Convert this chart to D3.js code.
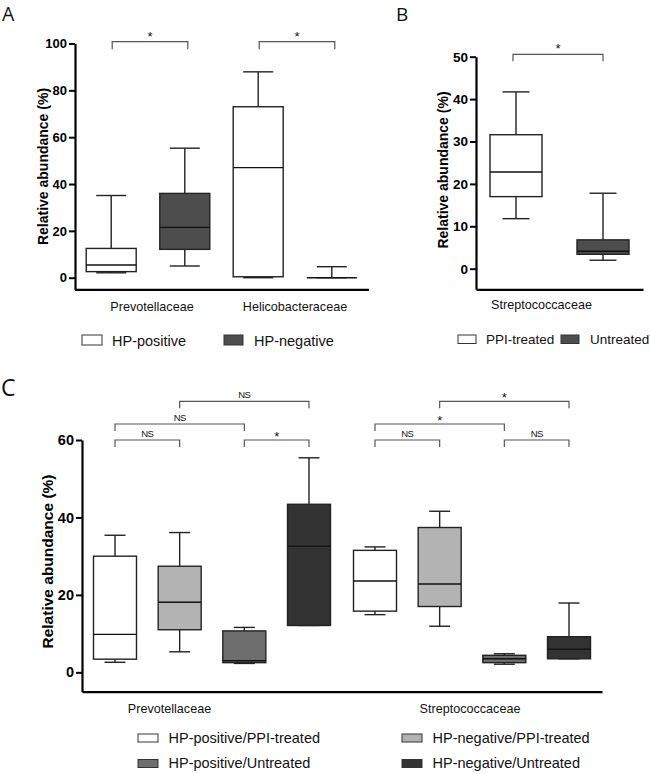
<!DOCTYPE html>
<html><head><meta charset="utf-8">
<script src="https://cdn.jsdelivr.net/npm/d3@7"></script>
<style>body{margin:0;background:#fff} svg{display:block}</style>
</head><body><svg id="c" width="650" height="774"></svg>
<script>
// ---------------- data ----------------
// box stats: [min, q1, median, q3, max]
const familiesA = ["Prevotellaceae", "Helicobacteraceae"];
const groupsA = ["HP-positive", "HP-negative"];
const statsA_HPpositive = [[2.1, 2.6, 5.4, 12.5, 35.1], [0.0, 0.4, 47.0, 73.0, 87.9]];
const statsA_HPnegative = [[5.0, 12.1, 21.5, 36.0, 55.3], [0.0, 0.0, 0.0, 0.0, 4.7]];
const ticksA = [0, 20, 40, 60, 80, 100];
const sigA = ["*", "*"];

const familiesB = ["Streptococcaceae"];
const groupsB = ["PPI-treated", "Untreated"];
const statsB = [[11.8, 17.0, 22.8, 31.6, 41.7], [2.0, 3.4, 4.1, 6.8, 17.8]];
const ticksB = [0, 10, 20, 30, 40, 50];
const sigB = ["*"];

const familiesC = ["Prevotellaceae", "Streptococcaceae"];
const groupsC = ["HP-positive/PPI-treated", "HP-negative/PPI-treated", "HP-positive/Untreated", "HP-negative/Untreated"];
const statsC_Prevotellaceae = [[2.6, 3.4, 9.8, 30.0, 35.4], [5.3, 11.0, 18.1, 27.4, 36.1], [2.3, 2.5, 3.0, 10.7, 11.6], [12.1, 12.1, 32.6, 43.4, 55.4]];
const statsC_Streptococcaceae = [[14.9, 15.8, 23.6, 31.5, 32.4], [11.9, 17.0, 22.8, 37.4, 41.6], [2.1, 2.5, 3.5, 4.4, 4.8], [3.5, 3.5, 6.0, 9.2, 17.9]];
const ticksC = [0, 20, 40, 60];
// comparisons: [group i, group j, label, bracket level]
const compsC_Prevotellaceae = [[0, 1, "NS", 0], [2, 3, "*", 0], [0, 2, "NS", 1], [1, 3, "NS", 2]];
const compsC_Streptococcaceae = [[0, 1, "NS", 0], [2, 3, "NS", 0], [0, 2, "*", 1], [1, 3, "*", 2]];

// ---------------- styles ----------------
const FONT = "'Liberation Sans', Arial, Helvetica, sans-serif";
const BOXSTROKE = "#222";
const BRACKET = "#555";
const fillsAB = ["#ffffff", "#4d4d4d"];
const fillsC = ["#ffffff", "#b3b3b3", "#6e6e6e", "#333333"];

const svg = d3.select("#c");

function yAxis(y, ticks, x, fs) {
  const ax = d3.axisLeft(y).tickValues(ticks).tickSize(6).tickPadding(2).tickSizeOuter(0);
  const g = svg.append("g").attr("transform", `translate(${x},0)`).call(ax);
  g.select(".domain").attr("stroke", "#000").attr("stroke-width", 2.2);
  g.selectAll(".tick line").attr("stroke", "#000").attr("stroke-width", 2);
  g.selectAll(".tick text").attr("font-family", FONT).attr("font-weight", "bold")
    .attr("font-size", fs).attr("fill", "#000");
}
function xAxis(xs, y0) {
  const g = svg.append("g").attr("transform", `translate(0,${y0})`)
    .call(d3.axisBottom(xs).tickSize(0).tickSizeOuter(0).tickFormat(""));
  g.select(".domain").attr("stroke", "#000").attr("stroke-width", 2.2);
}
function drawBox(cx, w, capW, s, y, fill) {
  const [mn, q1, md, q3, mx] = s;
  const g = svg.append("g").attr("stroke", BOXSTROKE).attr("stroke-width", 1.4).attr("fill", "none");
  g.append("line").attr("x1", cx).attr("x2", cx).attr("y1", y(mx)).attr("y2", y(q3));
  g.append("line").attr("x1", cx).attr("x2", cx).attr("y1", y(q1)).attr("y2", y(mn));
  g.append("line").attr("x1", cx - capW / 2).attr("x2", cx + capW / 2).attr("y1", y(mx)).attr("y2", y(mx));
  g.append("line").attr("x1", cx - capW / 2).attr("x2", cx + capW / 2).attr("y1", y(mn)).attr("y2", y(mn));
  const h = y(q1) - y(q3);
  if (h > 0.5) g.append("rect").attr("x", cx - w / 2).attr("y", y(q3)).attr("width", w).attr("height", h).attr("fill", fill);
  g.append("line").attr("x1", cx - w / 2).attr("x2", cx + w / 2).attr("y1", y(md)).attr("y2", y(md)).attr("stroke", "#111");
}
function bracket(x1, x2, ly, tip, label, fs, dy) {
  svg.append("path").attr("d", `M${x1},${ly + tip}V${ly}H${x2}V${ly + tip}`)
    .attr("fill", "none").attr("stroke", BRACKET).attr("stroke-width", 1.2);
  const t = svg.append("text").attr("x", (x1 + x2) / 2).attr("y", ly + dy).attr("text-anchor", "middle")
    .attr("font-family", FONT).attr("font-size", fs).attr("fill", "#111").text(label);
  if (label === "NS") t.attr("letter-spacing", -0.6);
}
function label(x, y, txt, fs, anchor) {
  svg.append("text").attr("x", x).attr("y", y).attr("text-anchor", anchor || "middle")
    .attr("font-family", FONT).attr("font-size", fs).attr("fill", "#111").text(txt);
}
function yTitle(x, y, fs) {
  svg.append("text").attr("transform", `translate(${x},${y}) rotate(-90)`).attr("text-anchor", "middle")
    .attr("font-family", FONT).attr("font-weight", "bold").attr("font-size", fs).attr("fill", "#000")
    .text("Relative abundance (%)");
}
function legendItem(x, y, w, h, fill, txt, fs, gap) {
  svg.append("rect").attr("x", x).attr("y", y).attr("width", w).attr("height", h)
    .attr("fill", fill).attr("stroke", "#333").attr("stroke-width", 1);
  svg.append("text").attr("x", x + w + gap).attr("y", y + h + 0.5).attr("font-family", FONT)
    .attr("font-size", fs).attr("fill", "#111").text(txt);
}
function panelLetter(x, y, fs, t) {
  svg.append("text").attr("x", x).attr("y", y).attr("font-family", "'Open Sans', 'DejaVu Sans', sans-serif")
    .attr("font-size", fs).attr("fill", "#111").text(t);
}

// ---------------- Panel A ----------------
{
  const y = d3.scaleLinear().domain([-4.95, 100]).range([289.3, 43.5]);
  const xf = d3.scaleBand().domain(familiesA).range([74.5, 368.5]);
  const stats = [statsA_HPpositive, statsA_HPnegative];
  familiesA.forEach((f, fi) => {
    const c = xf(f) + xf.bandwidth() / 2;
    const xg = d3.scalePoint().domain(groupsA).range([c - 36.8, c + 36.8]);
    groupsA.forEach((gname, gi) => drawBox(xg(gname), 50, 30, stats[gi][fi], y, fillsAB[gi]));
    bracket(xg(groupsA[0]) + 1, xg(groupsA[1]) + 3, 41.7, 7.6, sigA[fi], 13, -1);
    label(c + (fi === 0 ? 4 : 0), 310.7, f, 12.6);
  });
  xAxis(xf, 289.3);
  yAxis(y, ticksA, 75, 13);
  yTitle(47.5, 166.5, 14);
  legendItem(82, 335, 20, 10, fillsAB[0], groupsA[0], 14.5, 10);
  legendItem(224, 335, 19, 10, fillsAB[1], groupsA[1], 14.5, 11);
  panelLetter(2, 21, 19.5, "A");
}

// ---------------- Panel B ----------------
{
  const y = d3.scaleLinear().domain([-4.86, 50]).range([289.3, 56.7]);
  const xf = d3.scaleBand().domain(familiesB).range([476, 643]);
  familiesB.forEach((f, fi) => {
    const c = xf(f) + xf.bandwidth() / 2;
    const xg = d3.scalePoint().domain(groupsB).range([c - 43.5, c + 43.5]);
    groupsB.forEach((gname, gi) => drawBox(xg(gname), 52, 27, statsB[gi], y, fillsAB[gi]));
    bracket(xg(groupsB[0]) - 3, xg(groupsB[1]), 54.3, 7, sigB[fi], 13, -1);
    label(c - 18, 309, f, 12.6);
  });
  xAxis(xf, 289.3);
  yAxis(y, ticksB, 476, 13.5);
  yTitle(447.5, 170, 14);
  legendItem(458, 335, 18, 8.5, fillsAB[0], groupsB[0], 13.5, 10);
  legendItem(561, 335, 18, 8.5, fillsAB[1], groupsB[1], 13.5, 11);
  panelLetter(396, 21, 19, "B");
}

// ---------------- Panel C ----------------
{
  const y = d3.scaleLinear().domain([-5.0, 60]).range([691.7, 440]);
  const xf = d3.scaleBand().domain(familiesC).range([82, 602]);
  const statsByFam = [statsC_Prevotellaceae, statsC_Streptococcaceae];
  const compsByFam = [compsC_Prevotellaceae, compsC_Streptococcaceae];
  const levelY = [440, 424, 401.3];
  const labelShift = [-42.5, -2];
  familiesC.forEach((f, fi) => {
    const c = xf(f) + xf.bandwidth() / 2;
    const xg = d3.scalePoint().domain(groupsC).range([c - 97, c + 97]);
    groupsC.forEach((gname, gi) => drawBox(xg(gname), 43, 21, statsByFam[fi][gi], y, fillsC[gi]));
    compsByFam[fi].forEach(([i, j, lab, lev]) => {
      const ly = levelY[lev];
      if (lab === "NS") bracket(xg(groupsC[i]), xg(groupsC[j]), ly, 7, lab, 9.5, -3);
      else bracket(xg(groupsC[i]), xg(groupsC[j]), ly, 7, lab, 13, 1);
    });
    label(c + labelShift[fi], 713, f, 12.6);
  });
  xAxis(xf, 691.7);
  yAxis(y, ticksC, 82, 14.5);
  yTitle(52.5, 561.5, 15.5);
  groupsC.forEach((gname, gi) => {
    const col = gi % 2, row = Math.floor(gi / 2);
    legendItem(col ? 402 : 138, row ? 759.5 : 734, 20, 8, fillsC[gi], gname, 14.5, 10.5);
  });
  panelLetter(1, 395.5, 23, "C");
}
</script>
</body></html>
